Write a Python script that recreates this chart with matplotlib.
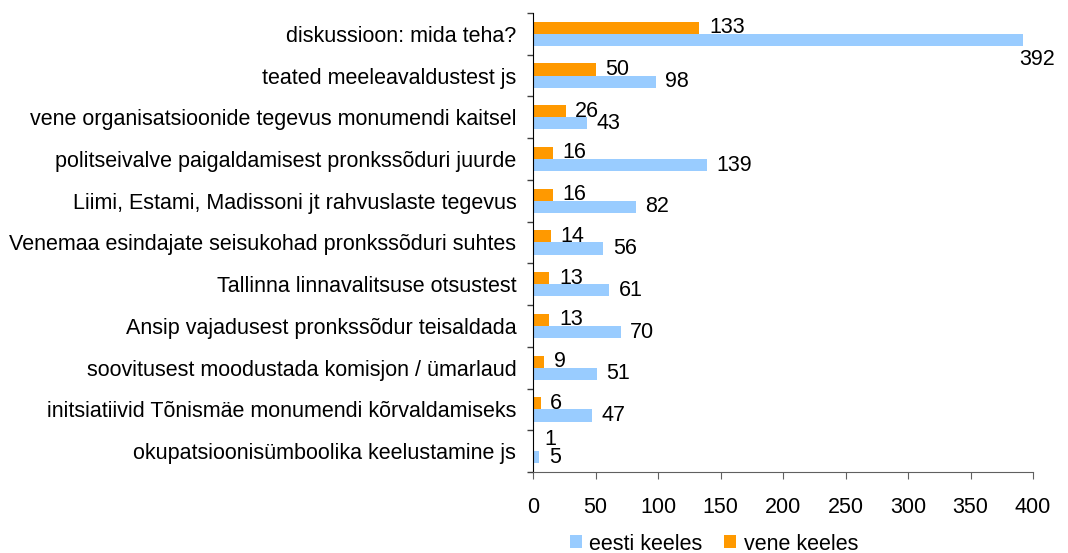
import numpy as np
import matplotlib.pyplot as plt
from matplotlib.patches import Patch

plt.rcParams['font.family'] = ['Liberation Sans', 'DejaVu Sans']

categories = ["diskussioon: mida teha?",
              "teated meeleavaldustest js",
              "vene organisatsioonide tegevus monumendi kaitsel",
              "politseivalve paigaldamisest pronkssõduri juurde",
              "Liimi, Estami, Madissoni jt rahvuslaste tegevus",
              "Venemaa esindajate seisukohad pronkssõduri suhtes",
              "Tallinna linnavalitsuse otsustest",
              "Ansip vajadusest pronkssõdur teisaldada",
              "soovitusest moodustada komisjon / ümarlaud",
              "initsiatiivid Tõnismäe monumendi kõrvaldamiseks",
              "okupatsioonisümboolika keelustamine js"]
eesti = [392, 98, 43, 139, 82, 56, 61, 70, 51, 47, 5]
vene = [133, 50, 26, 16, 16, 14, 13, 13, 9, 6, 1]

c_eesti = "#99CCFF"
c_vene = "#FF9900"

fig = plt.figure(figsize=(10.68, 5.53), dpi=100)
ax = fig.add_axes([533/1068, 1-472/553, 500/1068, 459/553])

y = np.arange(len(categories))
h = 0.29
ax.barh(y - h/2, vene, height=h, color=c_vene)
ax.barh(y + h/2, eesti, height=h, color=c_eesti)

fs = 15.5
for i in range(len(categories)):
    # tiny bars: label nudged up so it does not sit on the blue label
    dy = 4 if vene[i] < 3 else 0
    ax.annotate(str(vene[i]), (vene[i], y[i] - h/2), xytext=(7, dy),
                textcoords='offset points', va='center', ha='left', fontsize=fs)
    if eesti[i] > 350:
        ax.annotate(str(eesti[i]), (eesti[i], y[i] + h/2), xytext=(-3, -14),
                    textcoords='offset points', va='center', ha='left',
                    fontsize=fs, annotation_clip=False)
    else:
        ax.annotate(str(eesti[i]), (eesti[i], y[i] + h/2), xytext=(7, 0),
                    textcoords='offset points', va='center', ha='left', fontsize=fs)

ax.set_xlim(0, 400)
ax.set_xticks(np.arange(0, 401, 50))
ax.set_ylim(len(categories) - 0.5, -0.5)
ax.set_yticks(np.arange(-0.5, len(categories), 1))
ax.set_yticklabels([])
ax.set_yticks(y, minor=True)
ax.set_yticklabels(categories, minor=True, fontsize=fs)
ax.tick_params(axis='y', which='minor', length=0, pad=12)
ax.tick_params(axis='y', which='major', length=4.5, width=1, color='#404040')
ax.tick_params(axis='x', length=5, color='#606060', labelsize=fs, pad=13)

for s in ['top', 'right']:
    ax.spines[s].set_visible(False)
ax.spines['left'].set_color('black')
ax.spines['bottom'].set_color('#606060')

handles = [Patch(facecolor=c_eesti), Patch(facecolor=c_vene)]
fig.legend(handles, ['eesti keeles', 'vene keeles'], loc='center',
           bbox_to_anchor=(714/1068, 1-544/553), ncol=2, frameon=False,
           fontsize=fs, handlelength=0.55, handleheight=0.55,
           handletextpad=0.35, columnspacing=1.0, borderpad=0)

fig.savefig('out.png', dpi=100)
